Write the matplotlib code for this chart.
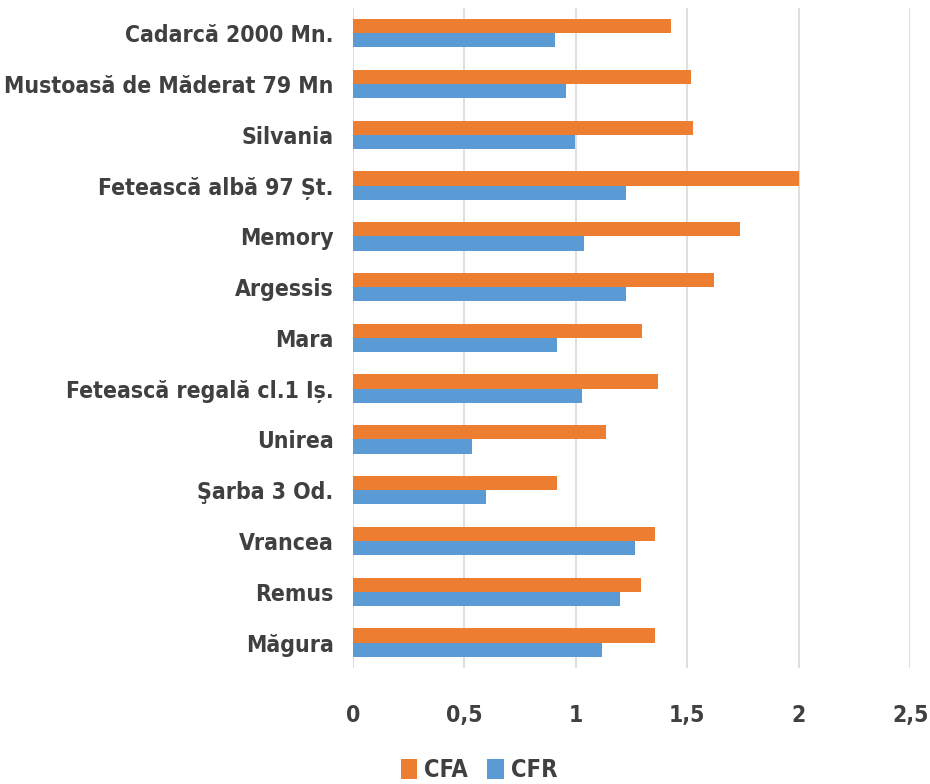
import numpy as np
import matplotlib.pyplot as plt

soiuri = ["Cadarcă 2000 Mn.", "Mustoasă de Măderat 79 Mn", "Silvania",
          "Fetească albă 97 Șt.", "Memory", "Argessis", "Mara",
          "Fetească regală cl.1 Iș.", "Unirea", "Şarba 3 Od.", "Vrancea",
          "Remus", "Măgura"]
cfa = [1.425, 1.515, 1.525, 2.0, 1.735, 1.62, 1.295, 1.368, 1.137, 0.917, 1.356, 1.294, 1.356]
cfr = [0.906, 0.956, 0.995, 1.226, 1.037, 1.226, 0.914, 1.027, 0.533, 0.597, 1.267, 1.197, 1.118]
ticks = [0, 0.5, 1, 1.5, 2, 2.5]
tick_labels = ["0", "0,5", "1", "1,5", "2", "2,5"]

plt.rcParams['font.family'] = ['DejaVu Sans']
plt.rcParams['font.stretch'] = 'condensed'

fig = plt.figure(figsize=(9.3, 7.84), dpi=100)
ax = fig.add_axes([0.3796, 0.148, 0.599, 0.842])

y = np.arange(len(soiuri))
h = 0.28
ax.barh(y - h / 2, cfa, height=h, color='#ED7D31', label='CFA')
ax.barh(y + h / 2, cfr, height=h, color='#5B9BD5', label='CFR')

ax.set_ylim(len(soiuri) - 0.5, -0.5)
ax.set_xlim(0, 2.5)
ax.set_xticks(ticks)
ax.set_xticklabels(tick_labels)
ax.set_yticks(y)
ax.set_yticklabels(soiuri)
ax.tick_params(axis='both', length=0, labelsize=16.5, colors='#404040')
ax.tick_params(axis='x', pad=26)
ax.tick_params(axis='y', pad=14)
for lab in ax.get_yticklabels() + ax.get_xticklabels():
    lab.set_fontweight('bold')

# vertical gridlines only, no frame
ax.grid(axis='x', color='#d9d9d9', linewidth=1.2)
ax.set_axisbelow(True)
for s in ax.spines.values():
    s.set_visible(False)

fig.legend(loc='lower center', bbox_to_anchor=(0.515, -0.025), ncol=2, frameon=False,
           handlelength=0.7, handleheight=0.9, handletextpad=0.3, columnspacing=0.8,
           prop={'size': 17, 'weight': 'bold', 'stretch': 'condensed'}, labelcolor='#404040')

fig.savefig('out.png', dpi=100)
